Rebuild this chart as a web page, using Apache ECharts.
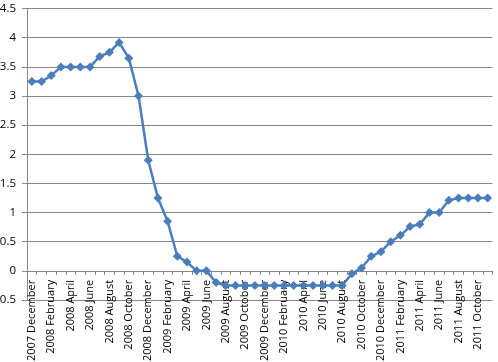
<!DOCTYPE html>
<html><head><meta charset="utf-8">
<script src="https://cdn.jsdelivr.net/npm/echarts@6/dist/echarts.min.js"></script>
<style>html,body{margin:0;padding:0;background:#fff}#c{width:498px;height:362px}</style>
</head><body><div id="c"></div>
<script>
const categories = ["2007 December","2008 January","2008 February","2008 March","2008 April","2008 May","2008 June","2008 July","2008 August","2008 September","2008 October","2008 November","2008 December","2009 January","2009 February","2009 March","2009 April","2009 May","2009 June","2009 July","2009 August","2009 September","2009 October","2009 November","2009 December","2010 January","2010 February","2010 March","2010 April","2010 May","2010 June","2010 July","2010 August","2010 September","2010 October","2010 November","2010 December","2011 January","2011 February","2011 March","2011 April","2011 May","2011 June","2011 July","2011 August","2011 September","2011 October","2011 November"];
const values = [3.25,3.25,3.35,3.5,3.5,3.5,3.5,3.68,3.75,3.92,3.65,3.0,1.9,1.25,0.85,0.25,0.15,0,0,-0.2,-0.25,-0.25,-0.25,-0.25,-0.25,-0.25,-0.25,-0.25,-0.25,-0.25,-0.25,-0.25,-0.25,-0.05,0.05,0.25,0.33,0.5,0.61,0.76,0.8,1.0,1.0,1.21,1.25,1.25,1.25,1.25];
const yTicks = {min:-0.5, max:4.5, interval:0.5};
const gridTop = 8.6, gridBottom = 62, H = 362;
const plotH = H - gridTop - gridBottom;
const zeroOffset = -plotH * (0 - yTicks.min) / (yTicks.max - yTicks.min);
const chart = echarts.init(document.getElementById('c'), null, {renderer:'canvas'});
chart.setOption({
  animation:false,
  grid:{left:27, right:5.5, top:gridTop, bottom:gridBottom, containLabel:false, outerBoundsMode:'none'},
  xAxis:{type:'category', data:categories, boundaryGap:true, offset:zeroOffset,
    axisLine:{onZero:false, lineStyle:{color:'#868686', width:1}},
    axisTick:{show:true, length:4, interval:0, lineStyle:{color:'#868686'}},
    axisLabel:{rotate:90, interval:1, color:'#000', fontSize:11, fontFamily:'Open Sans', margin:9}},
  yAxis:{type:'value', min:yTicks.min, max:yTicks.max, interval:yTicks.interval,
    axisLine:{show:true, lineStyle:{color:'#868686'}},
    axisTick:{show:true, length:5, lineStyle:{color:'#868686'}},
    splitLine:{show:true, lineStyle:{color:'#868686', width:1}},
    axisLabel:{color:'#000', fontSize:11.5, fontFamily:'Open Sans', margin:11}},
  series:[{type:'line', data:values, symbol:'diamond', symbolSize:9, showAllSymbol:true,
    lineStyle:{color:'#4A7EBB', width:2.5}, itemStyle:{color:'#4A7EBB'}}]
});
</script></body></html>
